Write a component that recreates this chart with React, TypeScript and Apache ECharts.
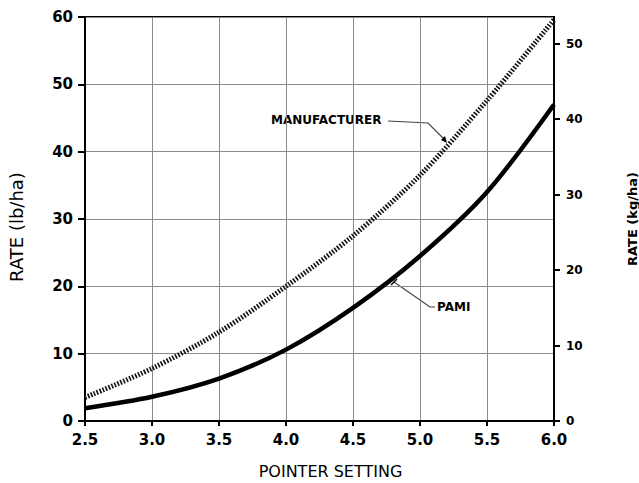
import React, { useEffect, useRef } from "react";
import * as echarts from "echarts";

const pointerSettings = [2.5, 3.0, 3.5, 4.0, 4.5, 5.0, 5.5, 6.0];
const pamiRate = [1.9, 3.6, 6.3, 10.6, 16.8, 24.5, 34.0, 47.0];
const manufacturerRate = [3.5, 7.8, 13.2, 20.0, 27.5, 36.5, 47.6, 59.6];
const lbTicks = { min: 0, max: 60, interval: 10 };
const kgTicks = { min: 0, max: 53.55, interval: 10 };

const FONT = "DejaVu Sans";

export default function App() {
  const ref = useRef<HTMLDivElement>(null);
  useEffect(() => {
    if (!ref.current) return;
    const chart = echarts.init(ref.current, null, { renderer: "svg" });
    const axisText = { color: "#000", fontFamily: FONT, fontSize: 15, fontWeight: "bold" as const };
    chart.setOption({
      animation: false,
      backgroundColor: "#fff",
      grid: {
        left: 85,
        right: 85,
        top: 17,
        bottom: 62,
        show: true,
        borderColor: "#000",
        borderWidth: 2,
        containLabel: false,
        outerBoundsMode: "none",
      },
      xAxis: {
        type: "value",
        min: 2.5,
        max: 6.0,
        interval: 0.5,
        axisLine: { show: true, onZero: false, lineStyle: { color: "#000", width: 2 } },
        axisTick: { show: true, length: 5, lineStyle: { color: "#000", width: 2 } },
        axisLabel: { ...axisText, margin: 11, formatter: (v: number) => v.toFixed(1) },
        splitLine: { show: true, lineStyle: { color: "#8a8a8a", width: 1 } },
        name: "POINTER SETTING",
        nameLocation: "middle",
        nameGap: 42,
        nameTextStyle: { color: "#000", fontFamily: FONT, fontSize: 16, padding: [0, 0, 0, 22] },
      },
      yAxis: [
        {
          type: "value",
          ...lbTicks,
          position: "left",
          axisLine: { show: true, lineStyle: { color: "#000", width: 2 } },
          axisTick: { show: true, length: 7, lineStyle: { color: "#000", width: 2 } },
          axisLabel: { ...axisText, margin: 12 },
          splitLine: { show: true, lineStyle: { color: "#8a8a8a", width: 1 } },
          name: "RATE (lb/ha)",
          nameLocation: "middle",
          nameGap: 60,
          nameRotate: 90,
          nameTextStyle: { color: "#000", fontFamily: FONT, fontSize: 18, padding: [0, 16, 0, 0] },
        },
        {
          type: "value",
          ...kgTicks,
          position: "right",
          axisLine: { show: true, lineStyle: { color: "#000", width: 2 } },
          axisTick: { show: true, length: 6, lineStyle: { color: "#000", width: 2 } },
          axisLabel: {
            color: "#000",
            fontFamily: FONT,
            fontSize: 12,
            fontWeight: "bold",
            margin: 12,
            showMaxLabel: false,
          },
          splitLine: { show: false },
          name: "RATE (kg/ha)",
          nameLocation: "middle",
          nameGap: 72,
          nameRotate: 90,
          nameTextStyle: { color: "#000", fontFamily: FONT, fontSize: 13, fontWeight: "bold", padding: [0, 0, 0, 0] },
        },
      ],
      series: [
        {
          name: "PAMI",
          type: "line",
          smooth: 0.3,
          symbol: "none",
          yAxisIndex: 0,
          data: pointerSettings.map((x, i) => [x, pamiRate[i]]),
          lineStyle: { color: "#000", width: 4.5 },
        },
        {
          name: "MANUFACTURER",
          type: "line",
          smooth: 0.3,
          symbol: "none",
          yAxisIndex: 0,
          data: pointerSettings.map((x, i) => [x, manufacturerRate[i]]),
          lineStyle: { color: "#111", width: 5, type: [1.6, 1.6], cap: "butt" },
        },
      ],
      graphic: [
        {
          type: "text",
          left: 271,
          top: 114,
          style: { text: "MANUFACTURER", fill: "#000", font: `bold 12px "${FONT}"` },
        },
        {
          type: "polyline",
          shape: { points: [[388, 121], [428, 123], [446, 141]] },
          style: { stroke: "#444", lineWidth: 1.2, fill: "none" },
        },
        {
          type: "polygon",
          shape: { points: [[447, 143], [441, 140], [445, 136]] },
          style: { fill: "#000" },
        },
        {
          type: "text",
          left: 437,
          top: 301,
          style: { text: "PAMI", fill: "#000", font: `bold 12px "${FONT}"` },
        },
        {
          type: "polyline",
          shape: { points: [[394, 282], [430, 307], [435, 307]] },
          style: { stroke: "#444", lineWidth: 1.2, fill: "none" },
        },
        {
          type: "line",
          shape: { x1: 391, y1: 285, x2: 397, y2: 279 },
          style: { stroke: "#000", lineWidth: 1.5 },
        },
      ],
    });
    return () => chart.dispose();
  }, []);
  return (
    <div
      ref={ref}
      style={{ position: "fixed", left: 0, top: 0, width: 639, height: 483, background: "#fff" }}
    />
  );
}
